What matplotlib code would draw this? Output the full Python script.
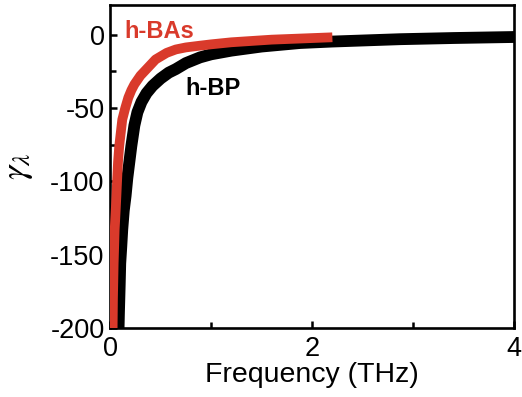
import matplotlib
matplotlib.use("Agg")
import matplotlib.pyplot as plt
from matplotlib.ticker import MultipleLocator

plt.rcParams['font.family'] = ['Liberation Sans', 'DejaVu Sans']
plt.rcParams['mathtext.fontset'] = 'stix'
plt.rcParams['axes.unicode_minus'] = False

# h-BP (black)
bp_freq = [0.082, 0.087, 0.095, 0.10, 0.11, 0.12, 0.135, 0.153, 0.17, 0.19, 0.21, 0.24, 0.27,
           0.31, 0.36, 0.42, 0.50, 0.58, 0.65, 0.75, 0.89, 1.0, 1.2, 1.5, 1.88, 2.2, 2.87, 3.4, 4.0]
bp_gamma = [-205, -190, -170, -156, -145, -133, -120, -110, -98, -87, -76, -62, -53,
            -46, -40, -35, -30, -26, -23.6, -19.5, -15.6, -13.5, -11.0, -8.2, -5.8, -4.8, -3.2, -2.4, -1.7]

# h-BAs (red)
bas_freq = [0.024, 0.028, 0.035, 0.045, 0.055, 0.062, 0.070, 0.078, 0.09, 0.11, 0.12, 0.15, 0.18,
            0.21, 0.24, 0.30, 0.36, 0.45, 0.56, 0.65, 0.75, 0.89, 1.0, 1.2, 1.6, 2.2]
bas_gamma = [-205, -180, -156, -133, -120, -110, -98, -87, -76, -64, -58, -50, -43,
             -38, -34, -28, -23.6, -17, -12.5, -10.2, -8.8, -7.6, -6.7, -5.3, -3.5, -1.9]

red = '#d93a2b'

fig = plt.figure(figsize=(5.22, 3.97), dpi=100)
ax = fig.add_axes([0.211, 0.174, 0.774, 0.813])

ax.plot(bp_freq, bp_gamma, color='black', lw=8.5, solid_capstyle='butt',
        solid_joinstyle='round', zorder=2)
ax.plot(bas_freq, bas_gamma, color=red, lw=7, solid_capstyle='butt',
        solid_joinstyle='round', zorder=3)

ax.set_xlim(0, 4)
ax.set_ylim(-200, 20)
ax.xaxis.set_major_locator(MultipleLocator(2))
ax.xaxis.set_minor_locator(MultipleLocator(1))
ax.yaxis.set_major_locator(MultipleLocator(50))
ax.yaxis.set_minor_locator(MultipleLocator(25))
ax.tick_params(which='both', direction='in', width=1.8, labelsize=19.5, top=False, right=False)
ax.tick_params(which='major', length=5)
ax.tick_params(which='minor', length=4)
ax.tick_params(axis='x', pad=6)
ax.tick_params(axis='y', pad=4)
for s in ax.spines.values():
    s.set_linewidth(1.9)

ax.set_xlabel('Frequency (THz)', fontsize=20.5, labelpad=0)
ax.set_ylabel(r'$\gamma_\lambda$', fontsize=26, labelpad=11)

ax.text(0.14, 2, 'h-BAs', color=red, fontsize=17, fontweight='bold', va='center', ha='left', zorder=4)
ax.text(0.74, -36.5, 'h-BP', color='black', fontsize=17, fontweight='bold', va='center', ha='left')

fig.savefig('out.png', dpi=100)
